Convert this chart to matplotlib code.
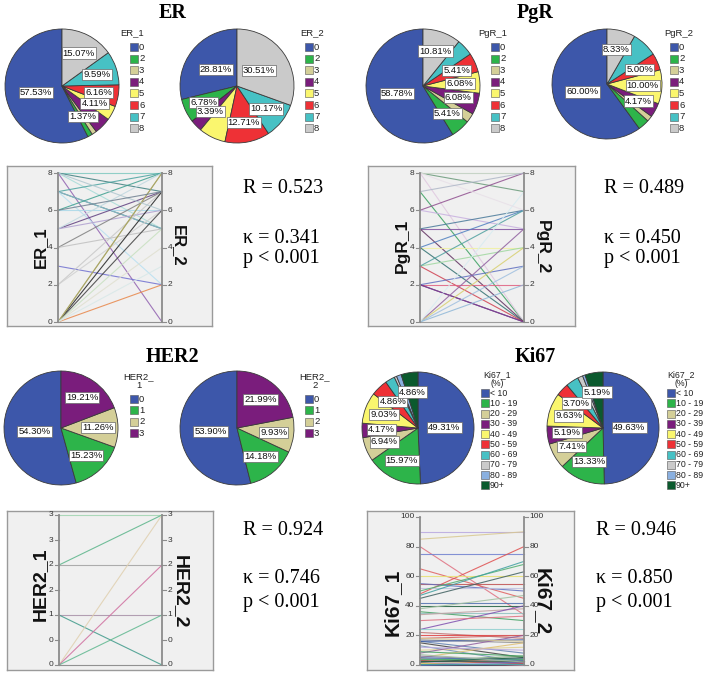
import matplotlib
matplotlib.use('Agg')
import matplotlib.pyplot as plt
from matplotlib.patches import Rectangle
import numpy as np

SANS = 'Liberation Sans'
NARROW = ['Liberation Sans Narrow', 'Liberation Sans']
SERIF = 'Liberation Serif'
W, H = 704, 675

# ---------------- data ----------------
er_cats = ['0', '2', '3', '4', '5', '6', '7', '8']
er1_pct = [57.53, 1.37, 1.37, 4.79, 4.11, 6.16, 9.59, 15.07]
er2_pct = [28.81, 6.78, 0.00, 3.39, 7.63, 12.71, 10.17, 30.51]
er1_show = [1, 0, 1, 0, 1, 1, 1, 1]
er2_show = [1, 1, 0, 1, 0, 1, 1, 1]

pgr_cats = ['0', '2', '3', '4', '5', '6', '7', '8']
pgr1_pct = [58.78, 5.41, 2.70, 6.08, 6.08, 5.41, 4.73, 10.81]
pgr2_pct = [60.00, 3.33, 1.67, 4.17, 10.00, 5.00, 7.50, 8.33]
pgr1_show = [1, 1, 0, 1, 1, 1, 0, 1]
pgr2_show = [1, 0, 0, 1, 1, 1, 0, 1]

her2_cats = ['0', '1', '2', '3']
her2_1_pct = [54.30, 15.23, 11.26, 19.21]
her2_2_pct = [53.90, 14.18, 9.93, 21.99]
her2_show = [1, 1, 1, 1]

ki67_cats = ['< 10', '10 - 19', '20 - 29', '30 - 39', '40 - 49', '50 - 59',
             '60 - 69', '70 - 79', '80 - 89', '90+']
ki67_1_pct = [49.31, 15.97, 6.94, 4.17, 9.03, 4.86, 2.78, 0.69, 1.39, 4.86]
ki67_2_pct = [49.63, 13.33, 7.41, 5.19, 9.63, 3.70, 3.70, 1.48, 0.74, 5.19]
ki67_show = [1, 1, 1, 1, 1, 1, 0, 0, 0, 1]

# paired scores (first vs second assessment), one line per pair
er_1 = [8, 8, 8, 8, 7, 7, 7, 7, 6, 6, 5, 5, 5, 4, 4, 3, 2, 2, 0, 0, 0, 0, 0, 0, 0, 0, 0, 8, 6]
er_2 = [8, 7, 5, 0, 8, 5, 5, 2, 6, 8, 7, 6, 8, 7, 5, 2, 7, 6, 2, 7, 6, 8, 8, 5, 4, 0, 3, 6, 7]

pgr_1 = [8, 8, 7, 8, 6, 6, 5, 5, 5, 4, 4, 4, 3, 3, 3, 2, 2, 2, 2, 0, 0, 0, 0, 0, 0, 8, 7]
pgr_2 = [7, 8, 0, 0, 8, 5, 5, 6, 0, 6, 4, 0, 4, 6, 0, 2, 3, 0, 0, 5, 4, 3, 2, 7, 0, 6, 8]

her2_1 = [3, 2, 2, 1, 1, 0, 0, 0, 0]
her2_2 = [3, 3, 2, 1, 0, 3, 2, 1, 0]

ki67_1 = [90, 85, 80, 75, 65, 48, 60, 55, 55, 52, 50, 47, 45, 42, 40, 38, 36, 35, 34, 24,
          24, 22, 20, 18, 17, 16, 16, 15, 13, 10, 8, 5, 5, 3, 2, 1, 1, 0, 2, 4, 3, 6, 12, 18, 30,
          0, 1, 2, 1, 3, 0, 2, 4, 1, 3, 5, 2, 7, 9]
ki67_2 = [90, 90, 34, 75, 45, 80, 60, 55, 50, 52, 68, 70, 63, 42, 40, 47, 30, 35, 38, 40,
          24, 18, 20, 20, 15, 8, 17, 5, 2, 12, 20, 15, 5, 3, 1, 2, 1, 0, 4, 2, 6, 3, 10, 16, 33,
          1, 0, 2, 3, 1, 2, 0, 4, 1, 3, 3, 5, 2, 6]

panel_R = ['0.523', '0.489', '0.924', '0.946']
panel_kappa = ['0.341', '0.450', '0.746', '0.850']
panel_p = ['< 0.001', '< 0.001', '< 0.001', '< 0.001']

# ---------------- style ----------------
pie_colors = ['#3D57AA', '#2DB44A', '#D4CF98', '#7A1D7C', '#FAF66E', '#EE3136',
              '#47C1C4', '#CACACA', '#8AB0E0', '#0B5A2E']
er_line_colors = ['#7FC8C0', '#3F7F7F', '#A8DCD8', '#9060B0', '#4BA3A0', '#2F7F7F', '#8FB8C8',
                  '#B8E0F0', '#A9D8E8', '#3FA090', '#604080', '#B0A0D0', '#C0D8E0', '#808080',
                  '#C0C0C0', '#7070D0', '#C8C8C8', '#D0D0D0', '#E8874A', '#222222', '#404040',
                  '#C8B878', '#A0A060', '#C8E0C0', '#E0E0D0', '#808080', '#D8E8E8', '#B0C8D0',
                  '#708090']
pgr_line_colors = ['#6A9A7A', '#C0D0C0', '#3AA060', '#E0C8E0', '#905090', '#C8B0E0', '#8050A0',
                   '#4A7A9A', '#603060', '#5080C0', '#F0F0A0', '#307070', '#A0D8A0', '#50A0A0',
                   '#D04050', '#E06080', '#6070C0', '#502050', '#8040A0', '#9060A0', '#D8D070',
                   '#A0C0E0', '#90B8D8', '#D8ECF0', '#909090', '#E8E0E8', '#B0B8C8']
her2_line_colors = ['#9FD4B0', '#5BB58A', '#A0A0A0', '#A890A8', '#3F9A8A', '#E0D0B0',
                    '#D070A0', '#60B890', '#808080']
ki67_palette = ['#B8A8E0', '#D8C890', '#E07080', '#7080D0', '#E06060', '#E05050', '#E8E070',
                '#C05050', '#6070C0', '#C0C0E0', '#50B070', '#40A0A0', '#406060', '#5070B0',
                '#206040', '#A0C0A0', '#40A060', '#90C0C0', '#C0A0A0', '#8050B0', '#90D0D0',
                '#C07070', '#E04040', '#D06060', '#909090', '#6080B0', '#3050A0', '#404040',
                '#7090B0', '#E0D090', '#9060A0', '#E0C070', '#80A0C0', '#606080', '#8080A0',
                '#404070', '#A0A0A0', '#303050', '#506080', '#C09070', '#70A070', '#8070A0']

fig = plt.figure(figsize=(W / 100, H / 100), dpi=100)


def rect(x0, y0, w, h):
    return [x0 / W, 1 - (y0 + h) / H, w / W, h / H]


def fx(x):
    return x / W


def fy(y):
    return 1 - y / H


def draw_pie(pct, colors, show, cx, cy, r, counterclock=True):
    pad = 1.02
    ax = fig.add_axes(rect(cx - r * pad, cy - r * pad, 2 * r * pad, 2 * r * pad))
    wedges, _ = ax.pie(pct, colors=colors, startangle=90, counterclock=counterclock,
                       wedgeprops=dict(edgecolor='#3a3a3a', linewidth=0.6))
    ax.set_xlim(-pad, pad)
    ax.set_ylim(-pad, pad)
    ax.set_aspect('equal')
    ax.axis('off')
    for w, p, s in zip(wedges, pct, show):
        if not s:
            continue
        th = np.deg2rad((w.theta1 + w.theta2) / 2)
        f = 0.47 if p >= 25 else 0.65
        ax.text(f * np.cos(th), f * np.sin(th), f'{p:.2f}%', ha='center', va='center',
                fontsize=6.8, family=SANS, color='#111',
                bbox=dict(boxstyle='square,pad=0.12', fc='white', ec='#666', lw=0.5))


def draw_legend(title, cats, colors, xp, ytitle, xtitle, yfirst, dy, fs=6.8):
    fig.text(fx(xtitle), fy(ytitle), title, ha='center', va='center', fontsize=fs,
             family=NARROW, color='#222', linespacing=0.95)
    for i, (c, col) in enumerate(zip(cats, colors)):
        y = yfirst + i * dy
        fig.add_artist(Rectangle((fx(xp), fy(y + 4)), 8 / W, 8 / H, transform=fig.transFigure,
                                 fc=col, ec='#555', lw=0.4))
        fig.text(fx(xp + 9), fy(y), c, ha='left', va='center', fontsize=fs,
                 family=NARROW, color='#222')


def draw_parallel(box, axx, py0, pytop, ymax, ticks, ticklabels, lv, rv, lcolors,
                  name1, name2, nsize, n1pos, n2pos):
    x0, y0, x1, y1 = box
    a, b = axx
    ax = fig.add_axes(rect(x0, y0, x1 - x0, y1 - y0))
    sx = b - a
    sy = (py0 - pytop) / ymax
    ax.set_xlim((x0 - a) / sx, (x1 - a) / sx)
    ax.set_ylim(-(y1 - py0) / sy, ymax + (pytop - y0) / sy)
    ax.set_facecolor('#F0F0F0')
    for s in ax.spines.values():
        s.set_color('#9A9A9A')
        s.set_linewidth(1.0)
    ax.set_xticks([])
    ax.set_yticks([])
    for i, (l, r) in enumerate(zip(lv, rv)):
        ax.plot([0, 1], [l, r], color=lcolors[i % len(lcolors)], lw=0.8, alpha=0.85)
    ax.plot([0, 0], [0, ymax], color='#8C8C8C', lw=1.3)
    ax.plot([1, 1], [0, ymax], color='#8C8C8C', lw=1.3)
    tl = 4 / sx
    for t, lab in zip(ticks, ticklabels):
        ax.plot([-tl, 0], [t, t], color='#8C8C8C', lw=0.8)
        ax.plot([1, 1 + tl], [t, t], color='#8C8C8C', lw=0.8)
        ax.text(-tl - 1.5 / sx, t, lab, ha='right', va='center', fontsize=6, family=SANS, color='#333')
        ax.text(1 + tl + 1.5 / sx, t, lab, ha='left', va='center', fontsize=6, family=SANS, color='#333')
    fig.text(fx(n1pos[0]), fy(n1pos[1]), name1, rotation=90, ha='center', va='center',
             fontsize=nsize, family=SANS, fontweight='bold', color='#111')
    fig.text(fx(n2pos[0]), fy(n2pos[1]), name2, rotation=-90, ha='center', va='center',
             fontsize=nsize, family=SANS, fontweight='bold', color='#111')


def draw_stats(x, yb, i):
    fig.text(fx(x), fy(yb[0]), f'R = {panel_R[i]}', family=SERIF, fontsize=14.5, va='baseline')
    fig.text(fx(x), fy(yb[1]), f'\u03ba = {panel_kappa[i]}', family=SERIF, fontsize=14.5, va='baseline')
    fig.text(fx(x), fy(yb[2]), f'p {panel_p[i]}', family=SERIF, fontsize=14.5, va='baseline')


def title(x, yb, t):
    fig.text(fx(x), fy(yb), t, family=SERIF, fontsize=14.5, fontweight='bold', ha='center', va='baseline')


# ---------------- ER ----------------
title(173, 18, 'ER')
draw_pie(er1_pct, pie_colors[:8], er1_show, 62, 86, 57)
draw_pie(er2_pct, pie_colors[:8], er2_show, 237, 86, 57)
draw_legend('ER_1', er_cats, pie_colors[:8], 130, 33, 132, 47, 11.6)
draw_legend('ER_2', er_cats, pie_colors[:8], 305, 33, 312, 47, 11.6)
draw_parallel((7, 166, 212, 326), (58, 162), 322, 173, 8, [0, 2, 4, 6, 8],
              ['0', '2', '4', '6', '8'], er_1, er_2, er_line_colors,
              'ER_1', 'ER_2', 12, (40, 247), (178, 246))
draw_stats(243, (193, 243, 263), 0)

# ---------------- PgR ----------------
title(535, 18, 'PgR')
draw_pie(pgr1_pct, pie_colors[:8], pgr1_show, 423, 86, 57)
draw_pie(pgr2_pct, pie_colors[:8], pgr2_show, 607, 84, 55)
draw_legend('PgR_1', pgr_cats, pie_colors[:8], 491, 33, 493, 47, 11.6)
draw_legend('PgR_2', pgr_cats, pie_colors[:8], 670, 33, 679, 47, 11.6)
draw_parallel((368, 166, 575, 326), (420, 524), 322, 173, 8, [0, 2, 4, 6, 8],
              ['0', '2', '4', '6', '8'], pgr_1, pgr_2, pgr_line_colors,
              'PgR_1', 'PgR_2', 12.5, (402, 246), (542, 247))
draw_stats(604, (193, 243, 263), 1)

# ---------------- HER2 ----------------
title(173, 362, 'HER2')
draw_pie(her2_1_pct, pie_colors[:4], her2_show, 61, 428, 57)
draw_pie(her2_2_pct, pie_colors[:4], her2_show, 237, 428, 57)
draw_legend('HER2_\n1', her2_cats, pie_colors[:4], 130, 381, 139, 399, 11.4)
draw_legend('HER2_\n2', her2_cats, pie_colors[:4], 305, 381, 315, 399, 11.4)
draw_parallel((7, 511, 213, 670), (59, 162), 665, 515, 3, [0, 0.5, 1, 1.5, 2, 2.5, 3],
              ['0', '0', '1', '2', '2', '3', '3'], her2_1, her2_2, her2_line_colors,
              'HER2_1', 'HER2_2', 14, (40, 584), (180, 592))
draw_stats(243, (535, 583, 607), 2)

# ---------------- Ki67 ----------------
title(535, 362, 'Ki67')
draw_pie(ki67_1_pct, pie_colors, ki67_show, 418, 428, 56, counterclock=False)
draw_pie(ki67_2_pct, pie_colors, ki67_show, 603, 428, 56, counterclock=False)
draw_legend('Ki67_1\n(%)', ki67_cats, pie_colors, 481, 379, 497, 393, 10.26, fs=6.3)
draw_legend('Ki67_2\n(%)', ki67_cats, pie_colors, 667, 379, 681, 393, 10.26, fs=6.3)
draw_parallel((367, 511, 574, 670), (420, 524), 665, 517, 100, [0, 20, 40, 60, 80, 100],
              ['0', '20', '40', '60', '80', '100'], ki67_1, ki67_2, ki67_palette,
              'Ki67_1', 'Ki67_2', 15, (392, 602), (542, 602))
draw_stats(596, (535, 583, 607), 3)

fig.savefig('out.png', dpi=100)
